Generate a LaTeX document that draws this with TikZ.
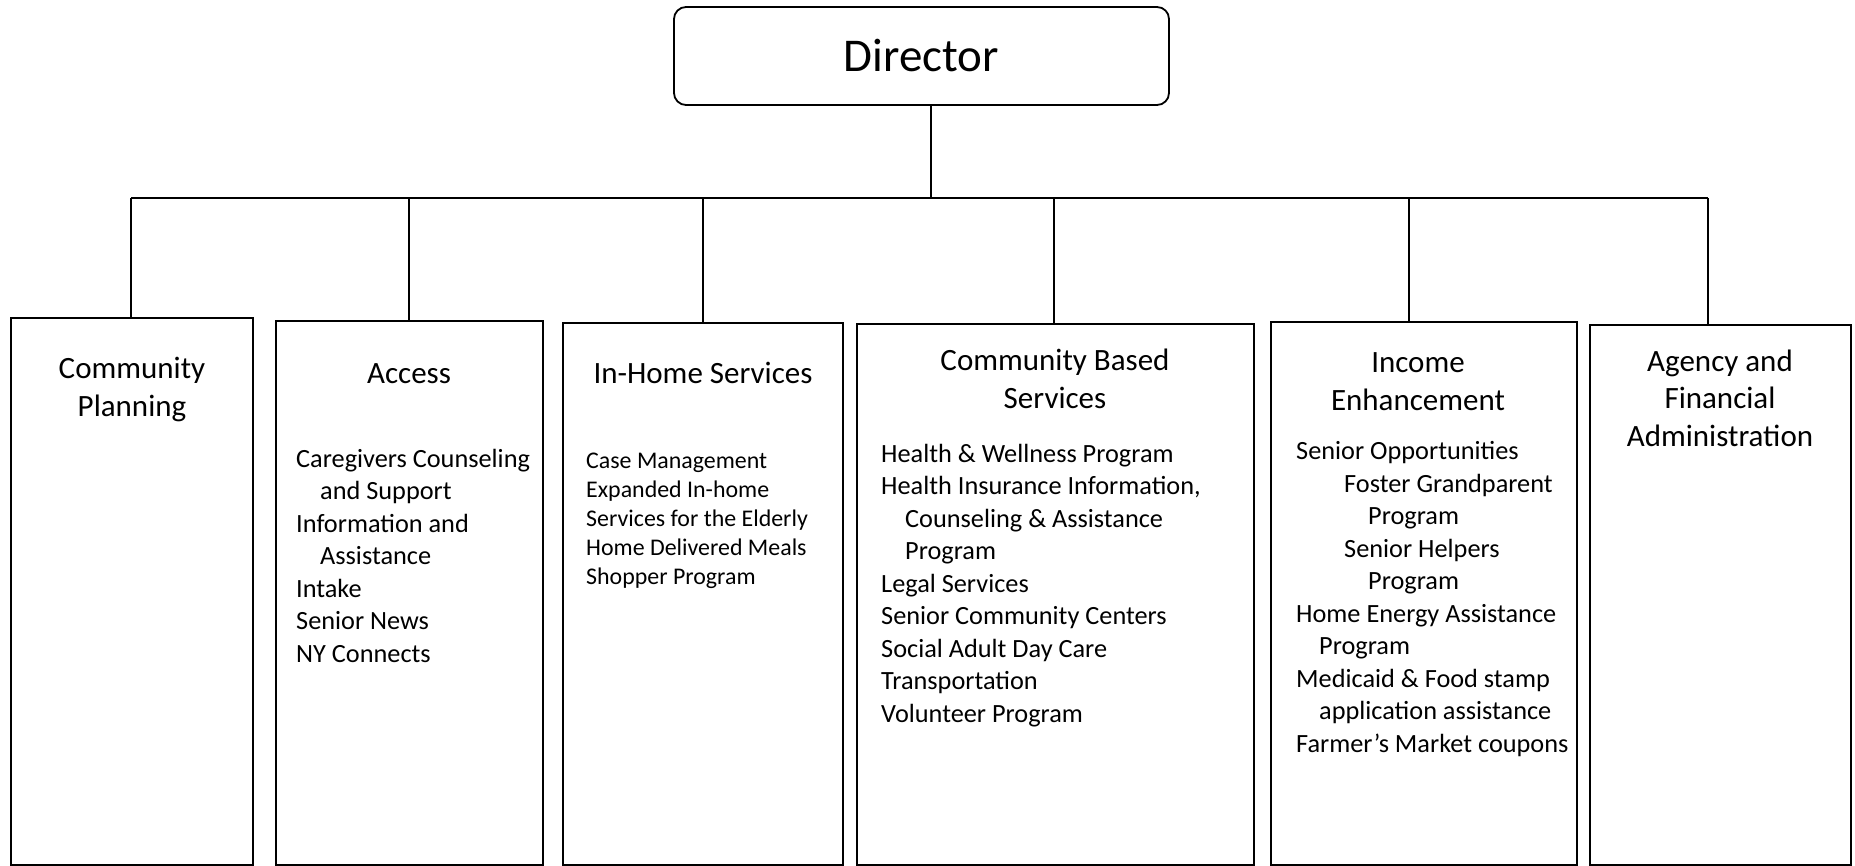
\documentclass[tikz,border=0pt]{standalone}
\usepackage{fontspec}
\setmainfont{Carlito}
\usetikzlibrary{fit}

\begin{document}
\begin{tikzpicture}[x=1pt,y=-1pt]
\tikzstyle{unit}=[draw, line width=1.8pt, inner sep=0pt]
\tikzstyle{head}=[align=center, inner sep=0pt, font=\fontsize{31}{37.5}\selectfont, anchor=base]
\tikzstyle{items}=[align=left, inner sep=0pt, font=\fontsize{26.3}{32.5}\selectfont, anchor=base west]
\tikzstyle{link}=[line width=1.1pt]

\useasboundingbox (0,0) rectangle (1855,866);

% top of the chart
\node[draw, line width=1.8pt, rounded corners=12pt, minimum width=495pt, minimum height=98pt,
  font=\fontsize{47}{56}\selectfont] (dir) at (921.5,56) {Director};

% the six units
\node[unit, fit={(11,318) (253,865)}] (cp) {};
\node[unit, fit={(276,321) (543,865)}] (acc) {};
\node[unit, fit={(563,323) (843,865)}] (ihs) {};
\node[unit, fit={(857,324) (1254,865)}] (cbs) {};
\node[unit, fit={(1271,322) (1577,865)}] (inc) {};
\node[unit, fit={(1590,325) (1851,865)}] (afa) {};

% headings (placed at the baseline of their last line)
\node[head] (cpt) at (132,416) {Community\\Planning};
\node[head] (acct) at (409,384) {Access};
\node[head] (ihst) at (703,384) {In-Home Services};
\node[head] (cbst) at (1055,408) {Community Based\\Services};
\node[head] (inct) at (1418,410) {Income\\Enhancement};
\node[head] (afat) at (1720,446) {Agency and\\Financial\\Administration};

% lists (placed at the baseline of their last line)
\node[items] (acci) at (296,662) {Caregivers Counseling\\\hspace*{24pt}and Support\\Information and\\
  \hspace*{24pt}Assistance\\Intake\\Senior News\\NY Connects};
\node[items, font=\fontsize{23.9}{29}\selectfont] (ihsi) at (586,584) {Case Management\\
  Expanded In-home\\Services for the Elderly\\Home Delivered Meals\\Shopper Program};
\node[items] (cbsi) at (881,722) {Health \& Wellness Program\\Health Insurance Information,\\
  \hspace*{24pt}Counseling \& Assistance\\\hspace*{24pt}Program\\Legal Services\\
  Senior Community Centers\\Social Adult Day Care\\Transportation\\Volunteer Program};
\node[items] (inci) at (1296,752) {Senior Opportunities\\\hspace*{48pt}Foster Grandparent\\
  \hspace*{72pt}Program\\\hspace*{48pt}Senior Helpers\\\hspace*{72pt}Program\\
  Home Energy Assistance\\\hspace*{23pt}Program\\Medicaid \& Food stamp\\
  \hspace*{23pt}application assistance\\Farmer’s Market coupons};

% connectors
\coordinate (top) at (931,198);
\draw[link] (dir.south -| top) -- (top);
\foreach \n/\x in {cp/131, acc/409, ihs/703, cbs/1054, inc/1409, afa/1708} {
\coordinate (d\n) at (\x,198);
\draw[link] (d\n) -- (d\n |- \n.north);
}
\draw[link] (dcp) -- (dafa);

\end{tikzpicture}
\end{document}
